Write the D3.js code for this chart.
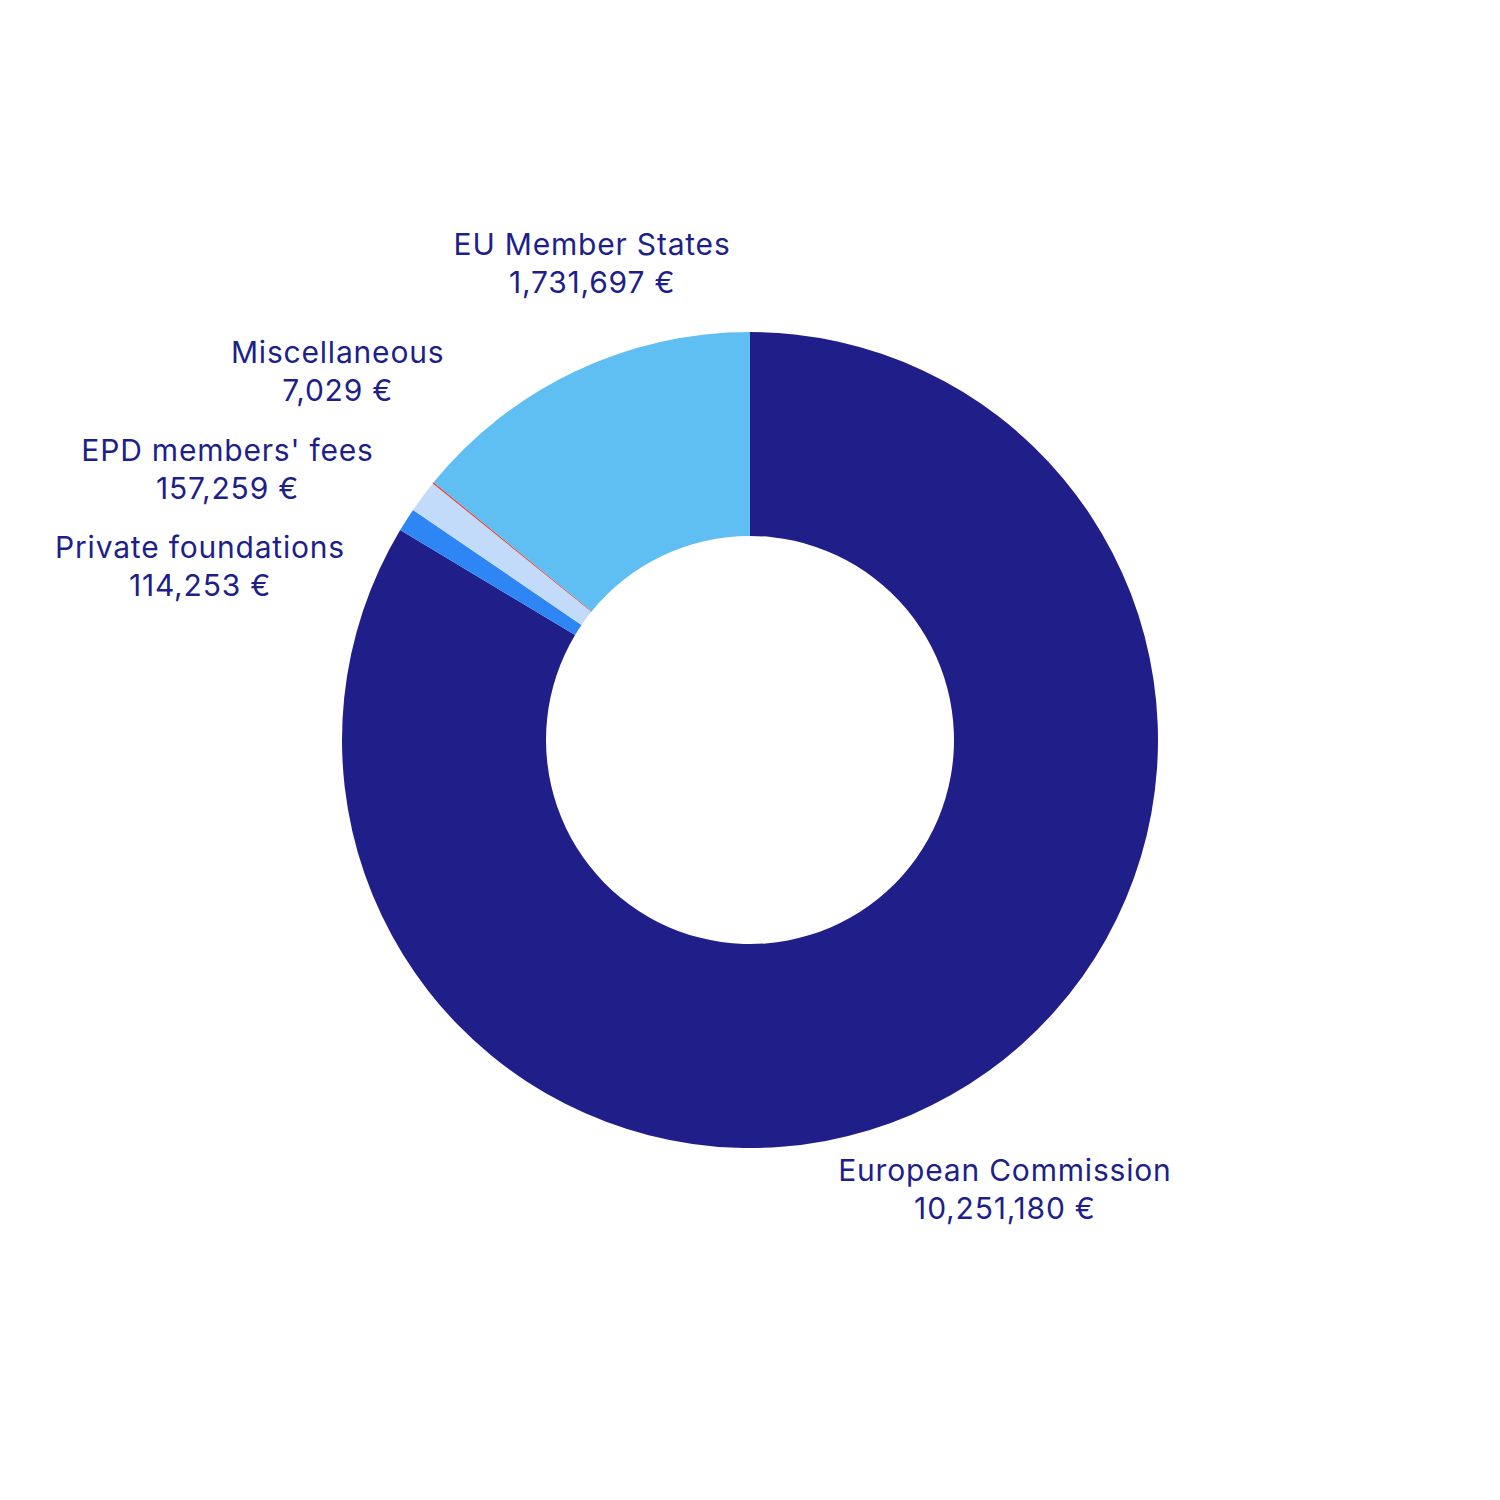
<!DOCTYPE html>
<html><head><meta charset="utf-8">
<script src="https://cdn.jsdelivr.net/npm/d3@7"></script>
<style>html,body{margin:0;padding:0;background:#fff}</style>
</head><body>
<svg id="c" width="1500" height="1500"></svg>
<script>
const categories = ["European Commission","Private foundations","EPD members' fees","Miscellaneous","EU Member States"];
const values = [10251180, 114253, 157259, 7029, 1731697];
const colors = ["#201f8a","#2e86f5","#c3dbfb","#e8403a","#5fbef2"];
// label placement (polar: radius px, angle deg clockwise from top)
const labelPolar = [[516,150.4],[577,-72.4],[589,-62.5],[554,-48.1],[503,-18.3]];

const svg = d3.select("#c");
const cx = 750, cy = 740, R = 408, r0 = 204;
const g = svg.append("g").attr("transform",`translate(${cx},${cy})`);
const data = categories.map((c,i)=>({name:c,value:values[i],color:colors[i],lp:labelPolar[i]}));
const pie = d3.pie().value(d=>d.value).sort(null);
const arc = d3.arc().innerRadius(r0).outerRadius(R);
const arcs = pie(data);
g.selectAll("path").data(arcs).join("path").attr("d",arc).attr("fill",d=>d.data.color);
const fmt = d3.format(",");
const lab = g.selectAll("text.l").data(arcs).join("text")
  .attr("class","l")
  .attr("text-anchor","middle")
  .attr("font-family","Inter, 'Noto Sans', sans-serif")
  .attr("font-size",30)
  .attr("letter-spacing","0.8px")
  .attr("fill","#201f8a")
  .attr("transform",d=>{const a=d.data.lp[1]*Math.PI/180, rr=d.data.lp[0];return `translate(${rr*Math.sin(a)},${-rr*Math.cos(a)})`;});
lab.append("tspan").attr("x",0).attr("y",-18).attr("dy","0.35em").text(d=>d.data.name);
lab.append("tspan").attr("x",0).attr("y",20).attr("dy","0.35em").text(d=>fmt(d.data.value)+" €");
</script>
</body></html>
